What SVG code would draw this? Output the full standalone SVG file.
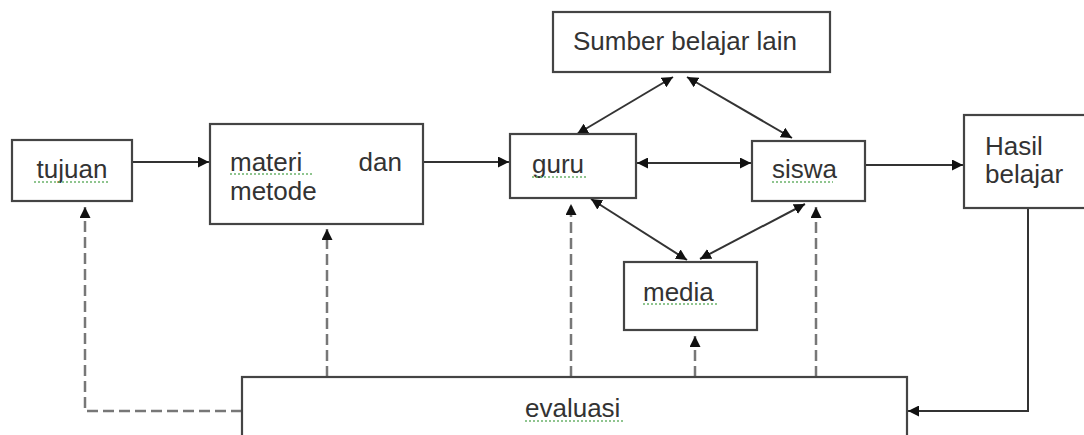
<svg xmlns="http://www.w3.org/2000/svg" width="1084" height="435" viewBox="0 0 1084 435">
<style>
.box{fill:#fff;stroke:#444;stroke-width:2.2}
.t{font-family:"Liberation Sans",Arial,sans-serif;font-size:26px;fill:#333}
.solid{fill:none;stroke:#333;stroke-width:2}
.dash{fill:none;stroke:#777;stroke-width:2.5;stroke-dasharray:11 5}
.spell{fill:none;stroke:#6bb36b;stroke-width:1.3;stroke-dasharray:2 2}
</style>
<defs>
<marker id="arr" viewBox="0 0 10 10" refX="10" refY="5" markerWidth="11" markerHeight="11" markerUnits="userSpaceOnUse" orient="auto-start-reverse">
<path d="M0,0 L10,5 L0,10 z" fill="#111"/>
</marker>
</defs>
<rect width="1084" height="435" fill="#fff"/>

<g id="connectors">
<path class="solid" d="M132,162 L209,162" marker-end="url(#arr)"/>
<path class="solid" d="M423,162 L509,162" marker-end="url(#arr)"/>
<path class="solid" d="M637,163 L751,163" marker-start="url(#arr)" marker-end="url(#arr)"/>
<path class="solid" d="M866,165 L963,165" marker-end="url(#arr)"/>
<path class="solid" d="M673,77 L577,134" marker-start="url(#arr)" marker-end="url(#arr)"/>
<path class="solid" d="M687,77 L792,138" marker-start="url(#arr)" marker-end="url(#arr)"/>
<path class="solid" d="M591,199 L687,260" marker-start="url(#arr)" marker-end="url(#arr)"/>
<path class="solid" d="M805,204 L700,259" marker-start="url(#arr)" marker-end="url(#arr)"/>
<path class="solid" d="M1028,208 L1028,411 L908,411" marker-end="url(#arr)"/>
<path class="dash" d="M242,411 L85,411 L85,207" marker-end="url(#arr)"/>
<path class="dash" d="M327,377 L327,229" marker-end="url(#arr)"/>
<path class="dash" d="M571,377 L571,204" marker-end="url(#arr)"/>
<path class="dash" d="M695,377 L695,336" marker-end="url(#arr)"/>
<path class="dash" d="M816,377 L816,207" marker-end="url(#arr)"/>
</g>

<g id="sumber">
<rect class="box" x="553" y="12" width="277" height="60"/>
<text class="t" x="573" y="50">Sumber belajar lain</text>
</g>
<g id="tujuan">
<rect class="box" x="12" y="140" width="120" height="61"/>
<text class="t" x="72" y="178" text-anchor="middle">tujuan</text>
<path class="spell" d="M34,182 L110,182"/>
</g>
<g id="materi">
<rect class="box" x="210" y="124" width="213" height="100"/>
<text class="t" x="230" y="171">materi</text>
<text class="t" x="402" y="171" text-anchor="end">dan</text>
<text class="t" x="230" y="200">metode</text>
<path class="spell" d="M230,174 L312,174"/>
</g>
<g id="guru">
<rect class="box" x="510" y="134" width="126" height="64"/>
<text class="t" x="532" y="173">guru</text>
<path class="spell" d="M532,177 L587,177"/>
</g>
<g id="siswa">
<rect class="box" x="752" y="141" width="113" height="60"/>
<text class="t" x="772" y="178">siswa</text>
<path class="spell" d="M772,182 L833,182"/>
</g>
<g id="hasil">
<rect class="box" x="964" y="115" width="130" height="93"/>
<text class="t" x="985" y="155">Hasil</text>
<text class="t" x="985" y="183">belajar</text>
</g>
<g id="media">
<rect class="box" x="624" y="262" width="133" height="68"/>
<text class="t" x="643" y="301">media</text>
<path class="spell" d="M643,304 L717,304"/>
</g>
<g id="evaluasi">
<rect class="box" x="242" y="377" width="665" height="70"/>
<text class="t" x="525" y="417">evaluasi</text>
<path class="spell" d="M525,421 L623,421"/>
</g>
</svg>
